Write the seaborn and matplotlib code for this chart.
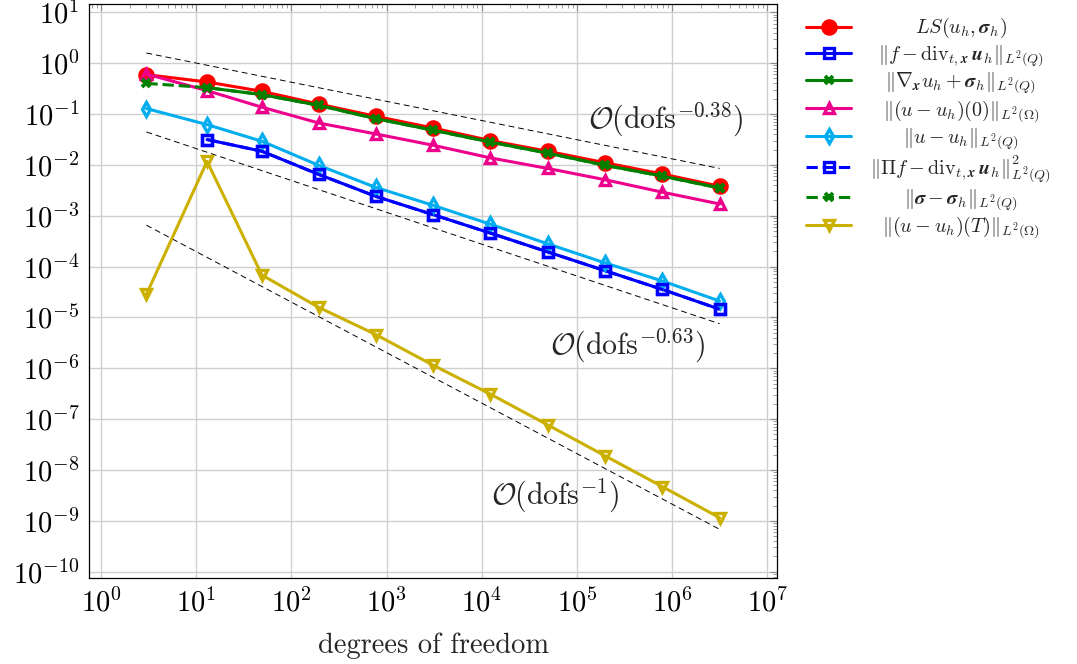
import matplotlib
matplotlib.use("Agg")
import matplotlib.pyplot as plt
import seaborn as sns
from matplotlib.ticker import LogLocator, NullFormatter

# degrees of freedom per refinement level
dofs = [3, 13, 49, 193, 769, 3073, 12289, 49153, 196609, 786433, 3145729]

ls_err = [0.594, 0.426, 0.279, 0.157, 0.090, 0.053, 0.030, 0.0185, 0.011, 0.0066, 0.0038]
div_err = [0.0314, 0.0185, 0.0065, 0.0024, 1.05e-3, 4.55e-4, 1.94e-4, 8.3e-5, 3.55e-5, 1.45e-5]
grad_err = [0.33, 0.24, 0.148, 0.081, 0.048, 0.028, 0.017, 0.0098, 0.0060, 0.0035]
init_err = [0.61, 0.288, 0.136, 0.0666, 0.0405, 0.0243, 0.0137, 0.0085, 0.0051, 0.0029, 0.0017]
u_err = [0.128, 0.0618, 0.0291, 0.0098, 0.0036, 0.0016, 6.8e-4, 2.8e-4, 1.18e-4, 5.2e-5, 2.1e-5]
proj_div_err = [0.0314, 0.0185, 0.0065, 0.0024, 1.05e-3, 4.55e-4, 1.94e-4, 8.3e-5, 3.55e-5, 1.45e-5]
sigma_err = [0.40, 0.33, 0.24, 0.148, 0.081, 0.048, 0.028, 0.017, 0.0098, 0.0060, 0.0035]
final_err = [2.83e-5, 0.0117, 6.8e-5, 1.58e-5, 4.6e-6, 1.15e-6, 3.1e-7, 7.7e-8, 1.9e-8, 4.7e-9, 1.15e-9]

# reference slopes (end points)
ref_x = [3, 3145729]
ref_038 = [1.58, 0.0085]
ref_063 = [0.0443, 7.5e-6]
ref_1 = [6.5e-4, 6.8e-10]

sns.set_theme(style="white")
plt.rcParams["font.family"] = ["cmr10", "DejaVu Serif"]
plt.rcParams["mathtext.fontset"] = "cm"
plt.rcParams["axes.formatter.use_mathtext"] = True
plt.rcParams["axes.unicode_minus"] = False

fig = plt.figure(figsize=(10.77, 6.64), dpi=100)
ax = fig.add_axes([0.0829, 0.1291, 0.7214 - 0.0829, 0.994 - 0.1291])
ax.set_xscale("log")
ax.set_yscale("log")

for ry in [ref_038, ref_063, ref_1]:
    sns.lineplot(x=ref_x, y=ry, ax=ax, color="black", lw=0.7,
                 linestyle=(0, (6, 4)))

series = [
    (dofs, ls_err, "#ff0000", "o", "-", r"$LS(u_h, \boldsymbol{\sigma}_h)$", True, 9.5),
    (dofs[1:], div_err, "#0000ff", "s", "-",
     r"$\Vert f - \mathrm{div}_{t,\boldsymbol{x}}\,\boldsymbol{u}_h\Vert_{L^2(Q)}$", False, 7.5),
    (dofs[1:], grad_err, "#008000", "x", "-",
     r"$\Vert \nabla_{\boldsymbol{x}} u_h + \boldsymbol{\sigma}_h\Vert_{L^2(Q)}$", True, 6),
    (dofs, init_err, "#ec008c", "^", "-", r"$\Vert (u - u_h)(0)\Vert_{L^2(\Omega)}$", False, 7.5),
    (dofs, u_err, "#00aeef", "d", "-", r"$\Vert u - u_h\Vert_{L^2(Q)}$", False, 7.5),
    (dofs[1:], proj_div_err, "#0000ff", "s", "--",
     r"$\Vert \Pi f - \mathrm{div}_{t,\boldsymbol{x}}\,\boldsymbol{u}_h\Vert^2_{L^2(Q)}$", False, 7.5),
    (dofs, sigma_err, "#008000", "x", "--",
     r"$\Vert \boldsymbol{\sigma} - \boldsymbol{\sigma}_h\Vert_{L^2(Q)}$", True, 6),
    (dofs, final_err, "#ccb000", "v", "-", r"$\Vert (u - u_h)(T)\Vert_{L^2(\Omega)}$", False, 7.5),
]

handles = []
for xs, ys, col, mk, ls, lab, filled, ms in series:
    sns.lineplot(x=xs, y=ys, ax=ax, color=col, lw=2.2, linestyle=ls,
                 marker=mk, markersize=ms, markeredgewidth=2.4 if mk != "x" else 2.8,
                 markerfacecolor=col if filled else "none", markeredgecolor=col,
                 label=lab)
    handles.append(ax.lines[-1])

ax.set_xlim(10 ** -0.123, 10 ** 7.10)
ax.set_ylim(10 ** -10.13, 10 ** 1.163)
ax.set_xticks([10.0 ** k for k in range(0, 8)])
ax.set_yticks([10.0 ** k for k in range(-10, 2)])
ax.xaxis.set_minor_locator(LogLocator(base=10, subs=range(2, 10), numticks=100))
ax.yaxis.set_minor_locator(LogLocator(base=10, subs=range(2, 10), numticks=100))
ax.xaxis.set_minor_formatter(NullFormatter())
ax.yaxis.set_minor_formatter(NullFormatter())
ax.tick_params(which="both", direction="in", top=True, right=True, color="#8c8c8c",
               labelsize=20.5, labelcolor="black")
ax.tick_params(which="major", length=5, width=0.8, pad=7)
ax.tick_params(which="minor", length=3, width=0.6)
ax.grid(True, which="major", color="#cfcfcf", lw=1.0)
for sp in ax.spines.values():
    sp.set_color("black")
    sp.set_linewidth(0.9)

ax.set_xlabel("degrees of freedom", fontsize=20.5, labelpad=11)

ax.text(8.6e5, 0.076, r"$\mathcal{O}(\mathrm{dofs}^{-0.38})$", fontsize=21.5, ha="center", va="center")
ax.text(3.38e5, 2.73e-6, r"$\mathcal{O}(\mathrm{dofs}^{-0.63})$", fontsize=21.5, ha="center", va="center")
ax.text(5.9e4, 3.1e-9, r"$\mathcal{O}(\mathrm{dofs}^{-1})$", fontsize=21.5, ha="center", va="center")

leg = ax.legend(handles=handles, loc="upper left", bbox_to_anchor=(0.742, 0.985),
                bbox_transform=fig.transFigure, frameon=False, fontsize=12.5,
                handlelength=2.6, numpoints=1, labelspacing=0.24, borderaxespad=0)

# centre the legend labels like pgfplots does
fig.canvas.draw()
inv = fig.transFigure.inverted()
for t in leg.get_texts():
    bb = t.get_window_extent()
    yc = inv.transform(((bb.x0 + bb.x1) / 2, (bb.y0 + bb.y1) / 2))[1]
    fig.text(0.892, yc, t.get_text(), ha="center", va="center", fontsize=14.5)
    t.set_visible(False)

fig.savefig("out.png", dpi=100)
